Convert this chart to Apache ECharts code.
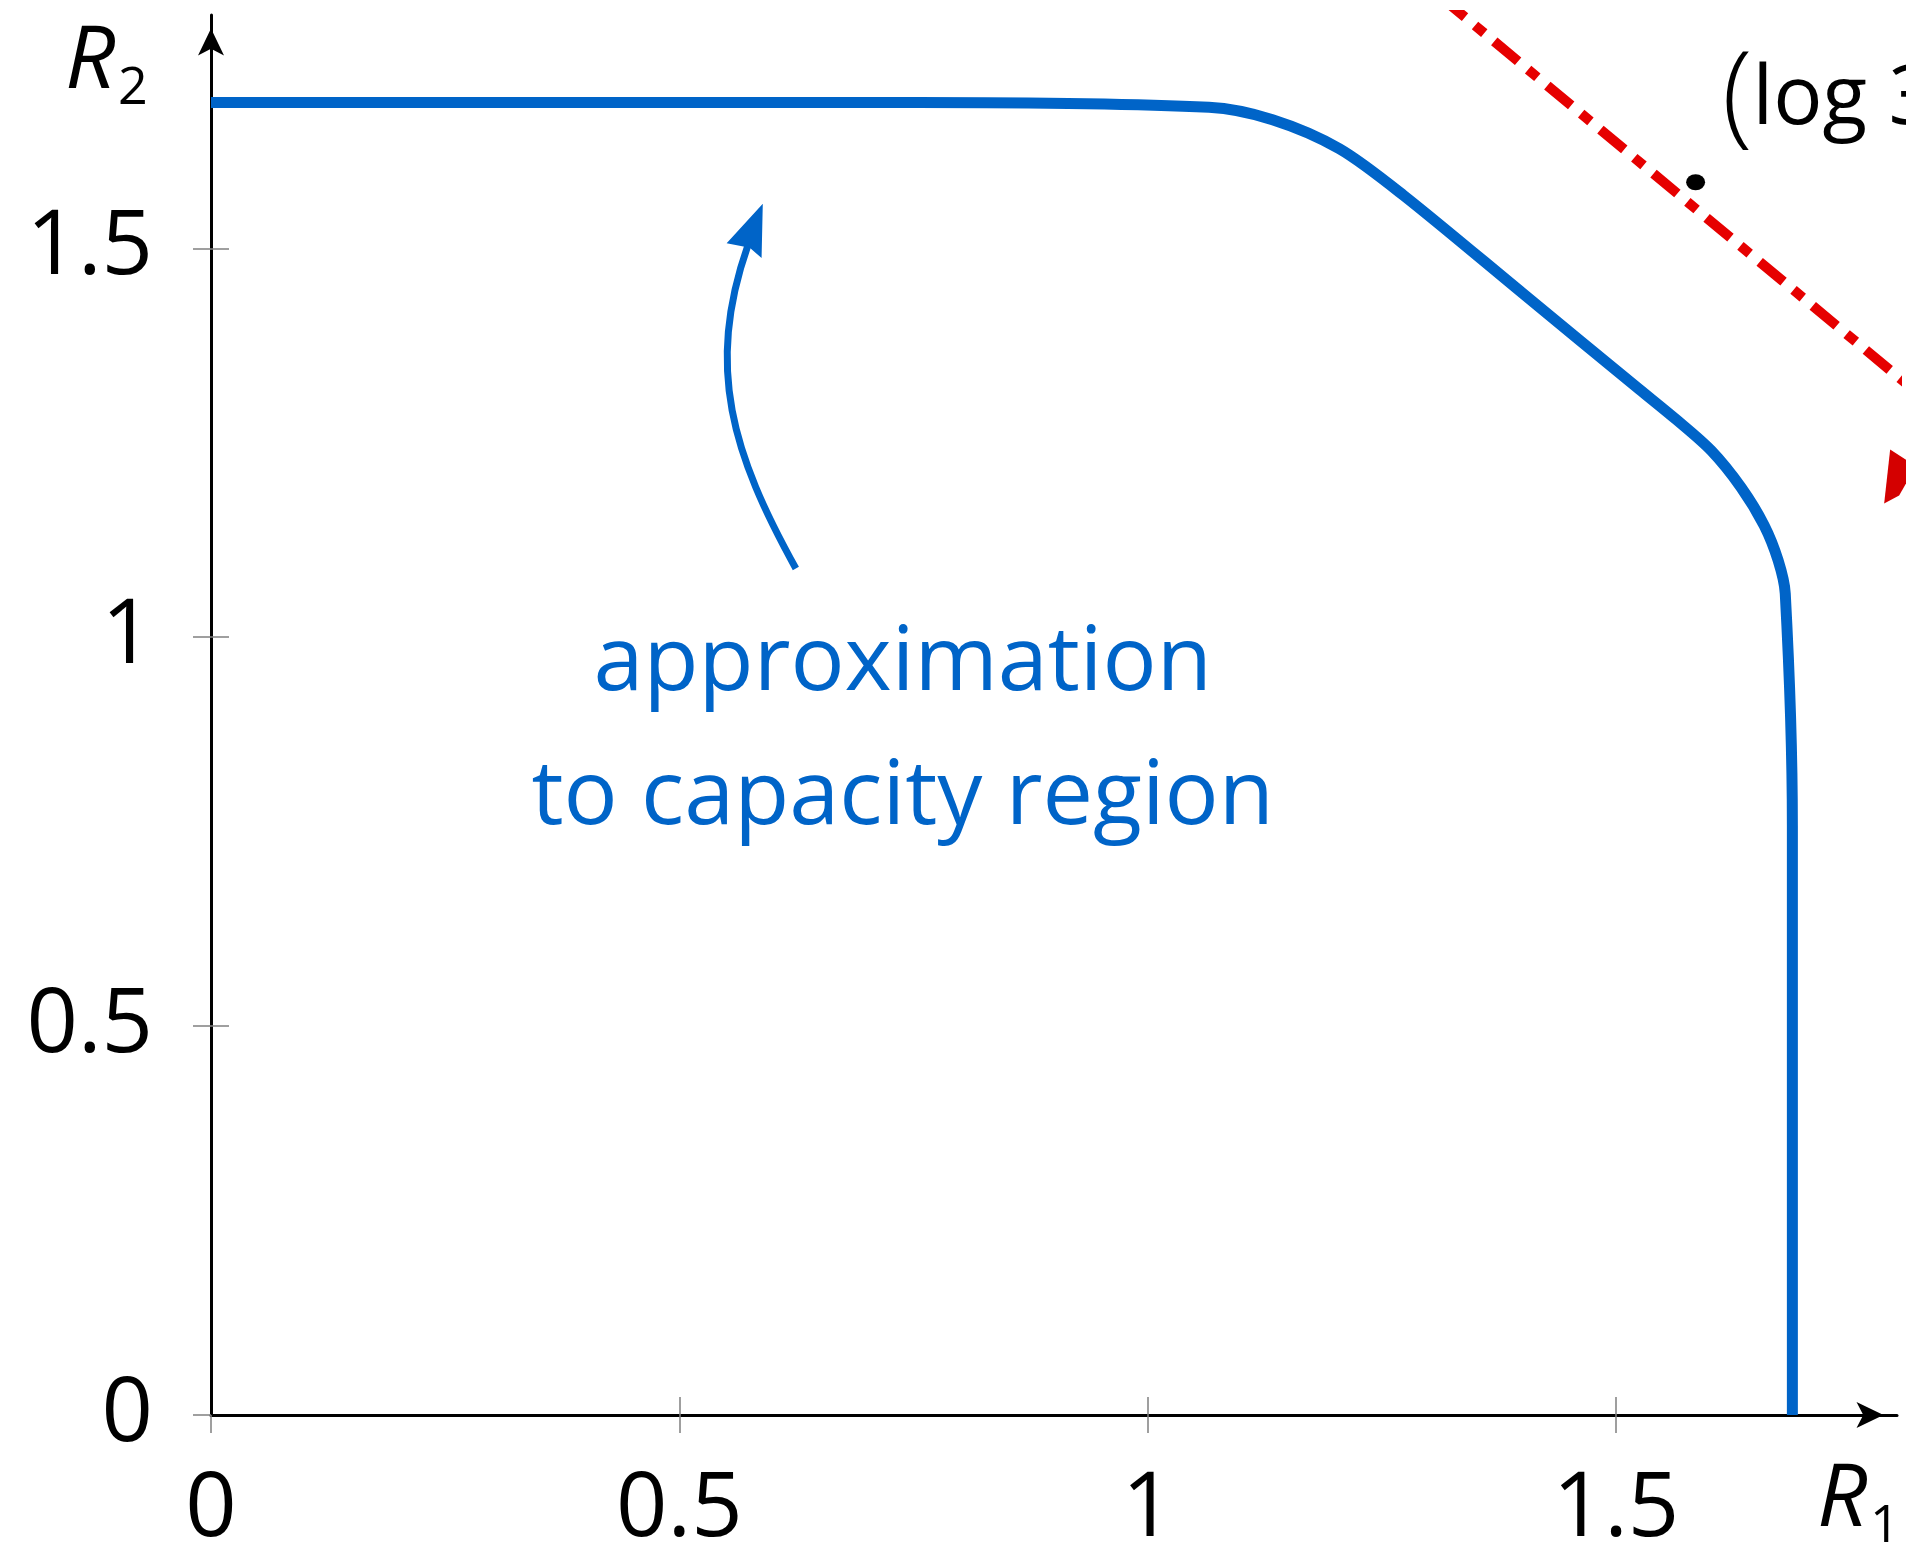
<!DOCTYPE html>
<html>
<head>
<meta charset="utf-8">
<script src="https://cdn.jsdelivr.net/npm/echarts@6/dist/echarts.min.js"></script>
<style>html,body{margin:0;padding:0;background:#fff}#c{width:1906px;height:1546px}</style>
</head>
<body>
<div id="c"></div>
<script>
// ---- data ----
const xTickValues = [0, 0.5, 1, 1.5];
const yTickValues = [0, 0.5, 1, 1.5];
const axisMax = 1.8;
// approximation to capacity region (R1, R2)
const regionR1 = [0, 0.7545, 1.0655, 1.1333, 1.2047, 1.2730, 1.4000, 1.5248, 1.5648, 1.6016, 1.6336, 1.6582, 1.6731, 1.6807, 1.6883, 1.6883];
const regionR2 = [1.6876, 1.6876, 1.6814, 1.6654, 1.6281, 1.5683, 1.4425, 1.3189, 1.2794, 1.2400, 1.1925, 1.1437, 1.0987, 1.0563, 0.7575, 0];
// outer bound R1 + R2 = const (dash-dot red)
const boundR1 = [1.20, 1.94];
const boundR2 = [1.936, 1.196];
// corner point
const pointR1 = [1.585];
const pointR2 = [1.585];
const pointLabel = '(log 3, log 3)';
// annotation text
const noteLines = ['approximation', 'to capacity region'];
const noteCenter = [0.7385, 0];
// blue curved arrow (data coords): tail, ctrl1, ctrl2, end, arrowhead tip/left/notch/right
const blueArrowPath = [[0.6244, 1.0884], [0.5572, 1.2349], [0.5273, 1.3454], [0.5731, 1.5035]];
const blueArrowHead = [[0.5891, 1.5574], [0.5505, 1.5064], [0.5752, 1.5009], [0.5878, 1.4877]];
// red arrowhead at right edge
const redArrowHead = [[1.7927, 1.2413], [1.7863, 1.1719], [1.8023, 1.1822], [1.8201, 1.2202]];

const BLUE = '#0064C8';
const RED = '#E60000';
const DARKRED = '#D40000';
const FONT = 'Open Sans';

const zip = (a, b) => a.map((v, i) => [v, b[i]]);

function axisCommon() {
  return { type: 'value', min: 0, max: axisMax, interval: 0.5, splitLine: { show: false } };
}

const option = {
  animation: false,
  backgroundColor: '#fff',
  grid: { left: 211, right: 9, top: 15, bottom: 131, containLabel: false, outerBoundsMode: 'none' },
  xAxis: [
    Object.assign(axisCommon(), {
      position: 'bottom',
      axisLine: { show: true, onZero: false, lineStyle: { color: '#000', width: 3 },
        symbol: ['none', 'arrow'], symbolSize: [19.5, 27], symbolOffset: [0, -13.5] },
      axisTick: { show: true, inside: false, length: 18, lineStyle: { color: '#808080', width: 1.5 }, customValues: xTickValues },
      axisLabel: { show: true, margin: 50, color: '#000', fontFamily: FONT, fontSize: 90, customValues: xTickValues,
        formatter: v => String(v) }
    }),
    Object.assign(axisCommon(), {
      position: 'bottom',
      axisLine: { show: false },
      axisTick: { show: true, inside: true, length: 18, lineStyle: { color: '#808080', width: 1.5 }, customValues: xTickValues.slice(1) },
      axisLabel: { show: false }
    })
  ],
  yAxis: [
    Object.assign(axisCommon(), {
      position: 'left',
      axisLine: { show: true, onZero: false, lineStyle: { color: '#000', width: 3 },
        symbol: ['none', 'arrow'], symbolSize: [19.5, 27], symbolOffset: [0, -13.5] },
      axisTick: { show: true, inside: false, length: 18, lineStyle: { color: '#808080', width: 1.5 }, customValues: yTickValues },
      axisLabel: { show: true, margin: 58, color: '#000', fontFamily: FONT, fontSize: 90, customValues: yTickValues,
        formatter: v => String(v) }
    }),
    Object.assign(axisCommon(), {
      position: 'left',
      axisLine: { show: false },
      axisTick: { show: true, inside: true, length: 18, lineStyle: { color: '#808080', width: 1.5 }, customValues: yTickValues.slice(1) },
      axisLabel: { show: false }
    })
  ],
  series: [
    {
      type: 'line', name: 'bound', data: zip(boundR1, boundR2), showSymbol: false, symbol: 'none', clip: true,
      lineStyle: { color: RED, width: 10, type: [31, 13, 12, 13], cap: 'butt' }, z: 3
    },
    {
      type: 'line', name: 'region', data: zip(regionR1, regionR2), showSymbol: false, symbol: 'none', smooth: 0.3,
      lineStyle: { color: BLUE, width: 11, cap: 'butt', join: 'round' }, z: 4
    },
    {
      type: 'scatter', name: 'point', data: zip(pointR1, pointR2), symbol: 'circle', symbolSize: [19, 16],
      itemStyle: { color: '#000', opacity: 1 }, z: 5,
      label: {
        show: true, position: 'right', distance: 0, offset: [17, -82], opacity: 1,
        formatter: () => '{p|(}{t|' + pointLabel.slice(1) + '}',
        rich: {
          p: { fontFamily: FONT, fontSize: 112, fontWeight: 300, color: '#000' },
          t: { fontFamily: FONT, fontSize: 82, color: '#000' }
        }
      }
    }
  ]
};

const chart = echarts.init(document.getElementById('c'), null, { renderer: 'canvas' });
chart.setOption(option);

const px = p => chart.convertToPixel({ seriesIndex: 1 }, p);
const xEnd = px([axisMax, 0]);
const yEnd = px([0, axisMax]);
const bp = blueArrowPath.map(px);
const bh = blueArrowHead.map(px);
const rh = redArrowHead.map(px);
const noteX = px([noteCenter[0], 1.0])[0];

chart.setOption({
  graphic: [
    { type: 'bezierCurve', z: 10,
      shape: { x1: bp[0][0], y1: bp[0][1], cpx1: bp[1][0], cpy1: bp[1][1], cpx2: bp[2][0], cpy2: bp[2][1], x2: bp[3][0], y2: bp[3][1] },
      style: { stroke: BLUE, lineWidth: 7, fill: null, lineCap: 'butt' } },
    { type: 'polygon', z: 10, shape: { points: bh }, style: { fill: BLUE } },
    { type: 'polygon', z: 10, shape: { points: rh }, style: { fill: DARKRED } },
    { type: 'text', z: 10, x: noteX, y: 690 - 26, style: { text: noteLines[0], fill: BLUE, font: '90px "' + FONT + '"', align: 'center', verticalAlign: 'middle' } },
    { type: 'text', z: 10, x: noteX, y: 824 - 26, style: { text: noteLines[1], fill: BLUE, font: '90px "' + FONT + '"', align: 'center', verticalAlign: 'middle' } },
    // axis names
    { type: 'text', z: 10, x: yEnd[0] - 146, y: yEnd[1] + 48, style: { text: 'R', fill: '#000', font: 'italic 88px "' + FONT + '"', align: 'left', verticalAlign: 'middle' } },
    { type: 'text', z: 10, x: yEnd[0] - 93, y: yEnd[1] + 74, style: { text: '2', fill: '#000', font: '52px "' + FONT + '"', align: 'left', verticalAlign: 'middle' } },
    { type: 'text', z: 10, x: xEnd[0] - 80, y: xEnd[1] + 86, style: { text: 'R', fill: '#000', font: 'italic 88px "' + FONT + '"', align: 'left', verticalAlign: 'middle' } },
    { type: 'text', z: 10, x: xEnd[0] - 27, y: xEnd[1] + 112, style: { text: '1', fill: '#000', font: '52px "' + FONT + '"', align: 'left', verticalAlign: 'middle' } }
  ]
});
</script>
</body>
</html>
